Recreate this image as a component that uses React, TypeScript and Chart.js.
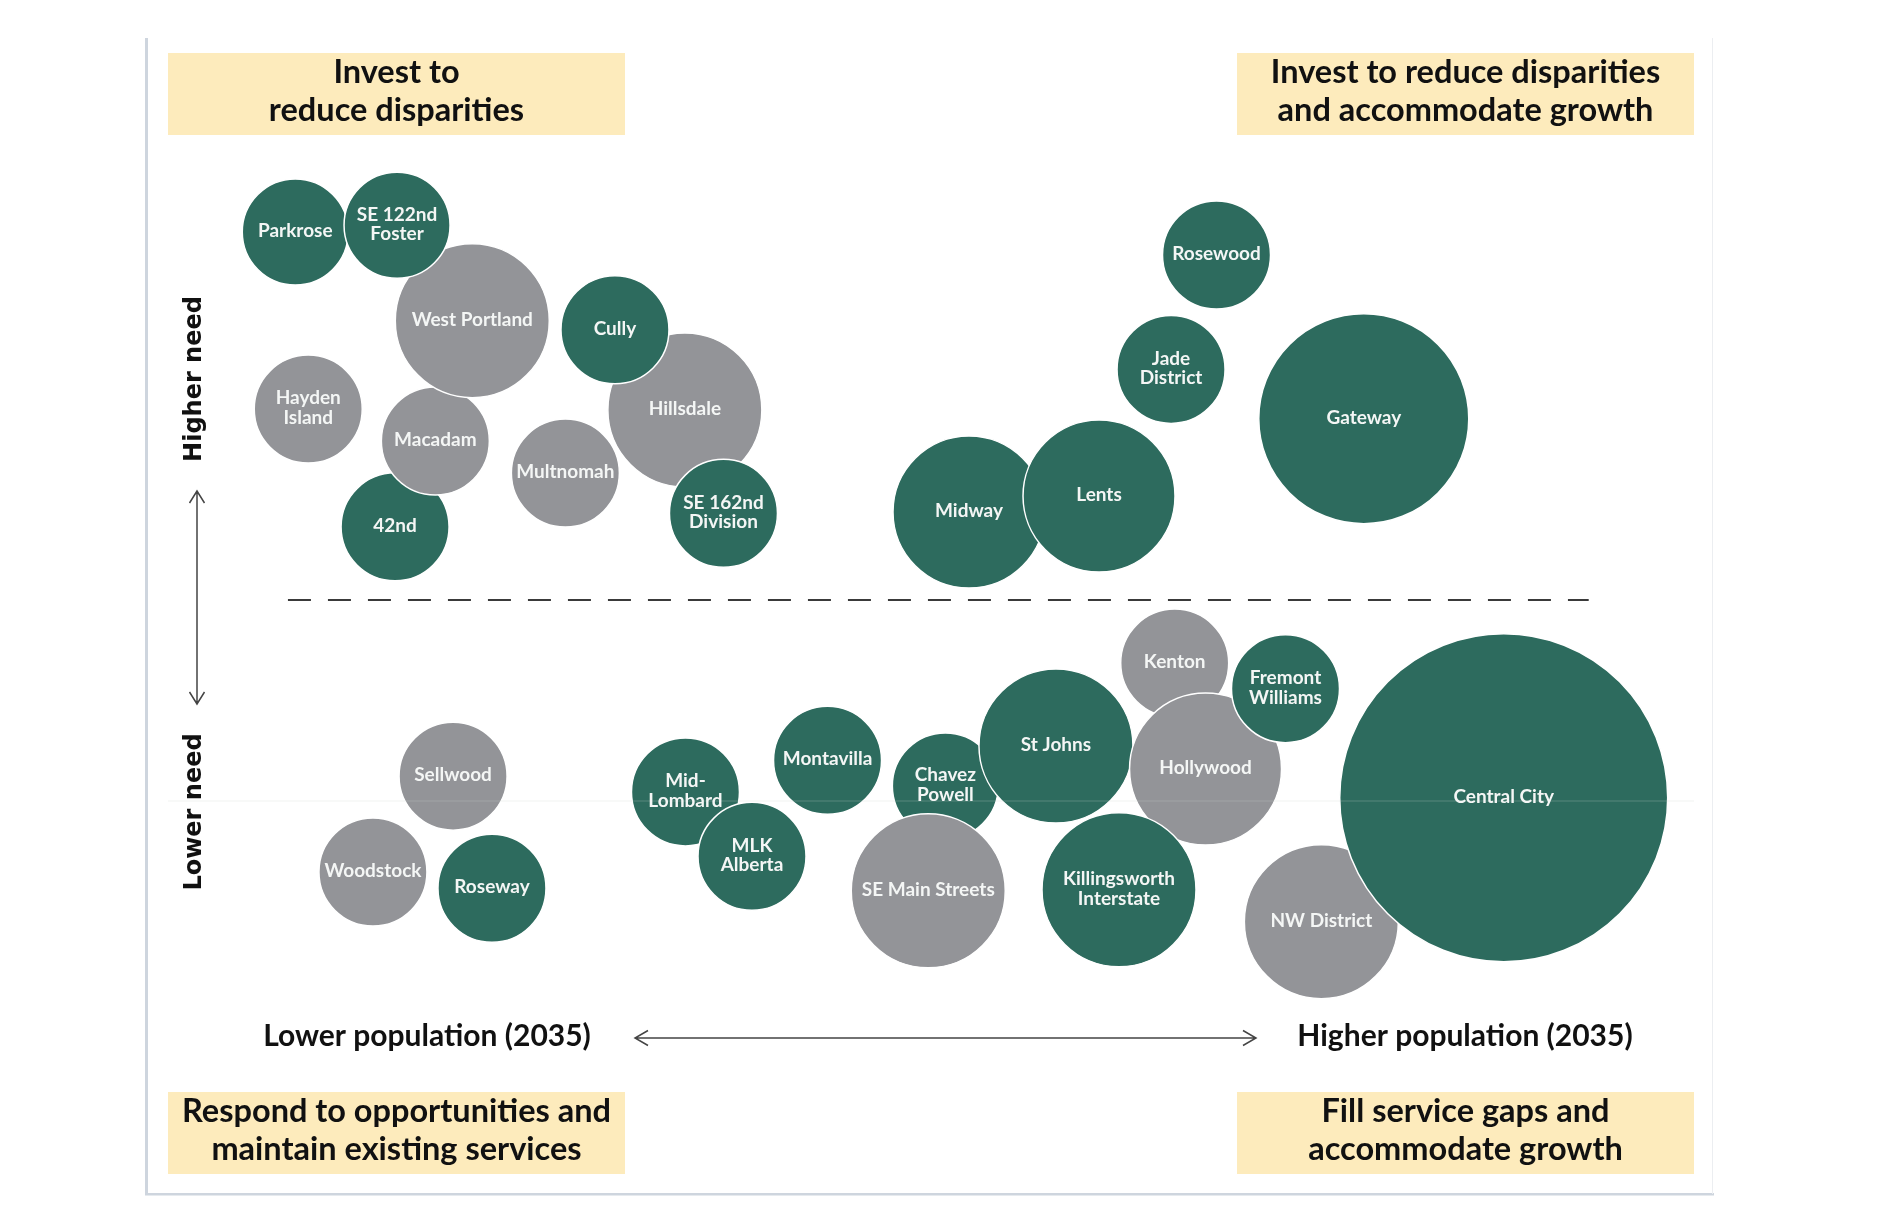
import React, { useEffect, useRef } from "react";
import { Chart, registerables } from "chart.js";

Chart.register(...registerables);

// ---- Data (drawn in this order: later items sit on top) ----
const districts = [
  "42nd", "Macadam", "West Portland", "Parkrose", "SE 122nd\nFoster",
  "Hayden\nIsland", "Multnomah", "Hillsdale", "Cully", "SE 162nd\nDivision",
  "Midway", "Lents", "Jade\nDistrict", "Rosewood", "Gateway",
  "Mid-\nLombard", "MLK\nAlberta", "Montavilla", "Chavez\nPowell", "St Johns",
  "SE Main Streets", "Kenton", "Hollywood", "Killingsworth\nInterstate", "Fremont\nWilliams",
  "NW District", "Central City", "Sellwood", "Woodstock", "Roseway",
];
// x: relative population (2035)
const population = [
  14.88, 17.52, 19.94, 8.34, 15.01,
  9.19, 26.04, 33.87, 29.29, 36.40,
  52.49, 61.01, 65.73, 68.71, 78.36,
  33.91, 38.27, 43.22, 50.94, 58.19,
  49.82, 65.97, 67.99, 62.32, 73.23,
  75.58, 87.53, 18.68, 13.43, 21.23,
];
// y: relative need
const need = [
  57.73, 65.39, 76.12, 84.03, 84.63,
  68.24, 62.53, 68.15, 75.31, 58.94,
  59.05, 60.48, 71.77, 81.98, 67.38,
  34.08, 28.34, 36.90, 34.61, 38.18,
  25.27, 45.58, 36.13, 25.36, 43.29,
  22.51, 33.56, 35.49, 26.94, 25.49,
];
// bubble size
const size = [
  54, 54, 77, 53, 53,
  54, 54, 77, 54, 54,
  76, 76, 54, 54, 105,
  54, 54, 54, 53, 77,
  77, 54, 76, 77, 54,
  77, 164, 54, 54, 54,
];
const group = [
  "green", "grey", "grey", "green", "green",
  "grey", "grey", "grey", "green", "green",
  "green", "green", "green", "green", "green",
  "green", "green", "green", "green", "green",
  "grey", "grey", "grey", "green", "green",
  "grey", "green", "grey", "grey", "green",
];

const quadrantTitles = [
  ["Invest to", "reduce disparities"],
  ["Invest to reduce disparities", "and accommodate growth"],
  ["Respond to opportunities and", "maintain existing services"],
  ["Fill service gaps and", "accommodate growth"],
];
const xAxisLabels = ["Lower population (2035)", "Higher population (2035)"];
const yAxisLabels = ["Higher need", "Lower need"];
const needThreshold = 51.2;
const thresholdSpan = [7.86, 93.1];

const GREEN = "#2d6b5e";
const GREY = "#939498";
const YELLOW = "#fdebbc";

const decorPlugin = {
  id: "decor",
  beforeDatasetsDraw(chart: any) {
    const { ctx, chartArea: a, scales } = chart;
    const xs = scales.x;
    const ys = scales.y;
    ctx.save();
    // frame
    ctx.fillStyle = "#ced5de";
    ctx.fillRect(a.left - 23, a.top - 15, 3, a.bottom + 21 - (a.top - 15));
    ctx.fillRect(a.left - 23, a.bottom + 19, a.right + 20 - (a.left - 23), 2.5);
    ctx.fillStyle = "#eceef1";
    ctx.fillRect(a.right + 18, a.top - 15, 1, a.bottom + 20 - (a.top - 15));

    // quadrant boxes
    const bw = 457;
    const bh = 82;
    const boxes = [
      [a.left, a.top],
      [a.right - bw, a.top],
      [a.left, a.bottom - bh],
      [a.right - bw, a.bottom - bh],
    ];
    ctx.font = '700 32.5px "Lato", "Noto Sans", sans-serif';
    ctx.textAlign = "center";
    ctx.textBaseline = "alphabetic";
    boxes.forEach(([bx, by], i) => {
      ctx.fillStyle = YELLOW;
      ctx.fillRect(bx, by, bw, bh);
      ctx.fillStyle = "#111111";
      const lines = quadrantTitles[i];
      ctx.fillText(lines[0], bx + bw / 2, by + 30);
      ctx.fillText(lines[1], bx + bw / 2, by + 68);
    });

    // threshold dashed line
    const ty = ys.getPixelForValue(needThreshold);
    ctx.strokeStyle = "#3a3a3a";
    ctx.lineWidth = 2;
    ctx.setLineDash([23, 17]);
    ctx.beginPath();
    ctx.moveTo(xs.getPixelForValue(thresholdSpan[0]), ty);
    ctx.lineTo(xs.getPixelForValue(thresholdSpan[1]), ty);
    ctx.stroke();
    ctx.setLineDash([]);

    // x axis labels + arrow
    ctx.fillStyle = "#111111";
    ctx.font = '700 30px "Lato", "Noto Sans", sans-serif';
    ctx.fillText(xAxisLabels[0], a.left + 259, a.bottom - 128);
    ctx.fillText(xAxisLabels[1], a.right - 229, a.bottom - 128);

    ctx.strokeStyle = "#444444";
    ctx.lineWidth = 1.5;
    const ay = a.bottom - 136;
    const ax0 = a.left + 467;
    const ax1 = a.left + 1088;
    ctx.beginPath();
    ctx.moveTo(ax0, ay);
    ctx.lineTo(ax1, ay);
    ctx.moveTo(ax0 + 13, ay - 7.5);
    ctx.lineTo(ax0, ay);
    ctx.lineTo(ax0 + 13, ay + 7.5);
    ctx.moveTo(ax1 - 13, ay - 7.5);
    ctx.lineTo(ax1, ay);
    ctx.lineTo(ax1 - 13, ay + 7.5);
    ctx.stroke();

    // y axis labels + arrow
    const vx = a.left + 29;
    ctx.font = '700 24px "DejaVu Sans", sans-serif';
    ctx.textBaseline = "middle";
    [[yAxisLabels[0], a.top + 326], [yAxisLabels[1], a.top + 759]].forEach(([t, cy]) => {
      ctx.save();
      ctx.translate(a.left + 27, cy as number);
      ctx.rotate(-Math.PI / 2);
      ctx.fillText(t as string, 0, 0);
      ctx.restore();
    });
    const vy0 = a.top + 438;
    const vy1 = a.top + 651;
    ctx.beginPath();
    ctx.moveTo(vx, vy0);
    ctx.lineTo(vx, vy1);
    ctx.moveTo(vx - 7.5, vy0 + 12);
    ctx.lineTo(vx, vy0);
    ctx.lineTo(vx + 7.5, vy0 + 12);
    ctx.moveTo(vx - 7.5, vy1 - 12);
    ctx.lineTo(vx, vy1);
    ctx.lineTo(vx + 7.5, vy1 - 12);
    ctx.stroke();
    ctx.restore();
  },
  afterDatasetsDraw(chart: any) {
    const { ctx, chartArea: a } = chart;
    const meta = chart.getDatasetMeta(0);
    ctx.save();
    // faint mid line
    ctx.fillStyle = "rgba(200,210,205,0.28)";
    ctx.fillRect(a.left, a.top + 747.5, a.right - a.left, 1);
    // bubble labels
    ctx.fillStyle = "#f4f6f5";
    ctx.font = '700 19px "Lato", "Noto Sans", sans-serif';
    ctx.textAlign = "center";
    ctx.textBaseline = "middle";
    meta.data.forEach((el: any, i: number) => {
      const lines = districts[i].split("\n");
      const lh = 19.5;
      const start = el.y - ((lines.length - 1) * lh) / 2 - 1;
      lines.forEach((ln, j) => ctx.fillText(ln, el.x, start + j * lh));
    });
    ctx.restore();
  },
};

export default function App() {
  const ref = useRef<HTMLCanvasElement | null>(null);
  useEffect(() => {
    document.body.style.margin = "0";
    const canvas = ref.current;
    if (!canvas) return;
    const chart = new Chart(canvas, {
      type: "bubble",
      data: {
        datasets: [
          {
            label: "Districts",
            data: districts.map((_, i) => ({ x: population[i], y: need[i], r: size[i] })),
            backgroundColor: districts.map((_, i) => (group[i] === "green" ? GREEN : GREY)),
            borderColor: "#ffffff",
            borderWidth: 1.5,
            hoverBorderWidth: 1.5,
            hoverRadius: 0,
            clip: false as any,
          },
        ],
      },
      options: {
        responsive: false,
        animation: false,
        events: [],
        layout: { autoPadding: false, padding: { left: 168, right: 192, top: 53, bottom: 50 } },
        plugins: { legend: { display: false }, tooltip: { enabled: false } },
        scales: {
          x: { type: "linear", min: 0, max: 100, display: false },
          y: { type: "linear", min: 0, max: 100, display: false },
        },
      },
      plugins: [decorPlugin],
    });
    return () => chart.destroy();
  }, []);
  return (
    <div style={{ position: "absolute", left: 0, top: 0, width: 1886, height: 1224, background: "#ffffff" }}>
      <canvas ref={ref} width={1886} height={1224} style={{ width: 1886, height: 1224, display: "block" }} />
    </div>
  );
}
